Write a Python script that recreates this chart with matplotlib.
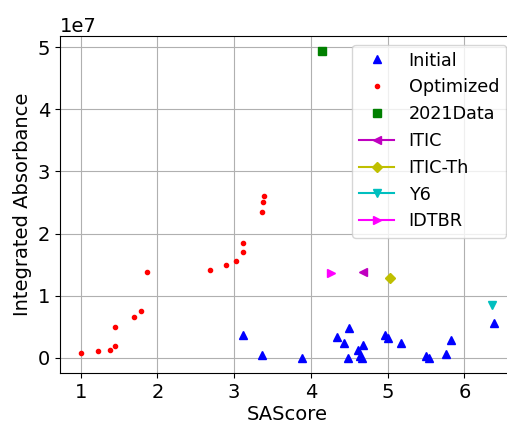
import matplotlib
matplotlib.use('Agg')
from matplotlib import pyplot as plt

# SAScore vs integrated absorbance
init_x = [3.12, 3.36, 3.89, 4.34, 4.50, 4.43, 4.48, 4.68, 4.62, 4.64, 4.66,
          4.97, 5.00, 5.18, 5.50, 5.54, 5.76, 5.82, 6.39]
init_y = [0.36e7, 0.05e7, 0.0, 0.34e7, 0.48e7, 0.24e7, 0.0, 0.20e7, 0.12e7,
          0.02e7, 0.0, 0.36e7, 0.31e7, 0.23e7, 0.03e7, 0.0, 0.06e7, 0.29e7, 0.56e7]

opt_x = [1.0, 1.22, 1.38, 1.45, 1.45, 1.69, 1.78, 1.86, 2.68, 2.89, 3.02,
         3.11, 3.11, 3.36, 3.37, 3.39]
opt_y = [0.08e7, 0.11e7, 0.13e7, 0.18e7, 0.50e7, 0.66e7, 0.75e7, 1.38e7,
         1.42e7, 1.49e7, 1.55e7, 1.70e7, 1.84e7, 2.35e7, 2.51e7, 2.60e7]

data2021_x = [4.14]
data2021_y = [4.94e7]

itic_x, itic_y = [4.68], [1.38e7]
itic_th_x, itic_th_y = [5.03], [1.28e7]
y6_x, y6_y = [6.36], [0.85e7]
idtbr_x, idtbr_y = [4.26], [1.36e7]

plt.rcParams['font.size'] = 14

fig = plt.figure(figsize=(5.07, 4.23), dpi=100)
ax = fig.add_axes([0.1183, 0.1182, 0.8974, 0.7974])

ax.plot(init_x, init_y, 'b^', ms=5.5, label='Initial')
ax.plot(opt_x, opt_y, 'r.', label='Optimized')
ax.plot(data2021_x, data2021_y, 'gs', ms=5.5, label='2021Data')
ax.plot(itic_x, itic_y, marker='<', color='m', ms=5.5, label='ITIC')
ax.plot(itic_th_x, itic_th_y, marker='D', color='y', ms=5.5, label='ITIC-Th')
ax.plot(y6_x, y6_y, marker='v', color='c', ms=5.5, label='Y6')
ax.plot(idtbr_x, idtbr_y, marker='>', color='magenta', ms=5.5, label='IDTBR')

ax.grid()
ax.set_xlabel('SAScore', labelpad=2)
ax.set_ylabel('Integrated Absorbance')
ax.legend(loc='upper right', fontsize=12.7)

fig.savefig('out.png', dpi=100)
